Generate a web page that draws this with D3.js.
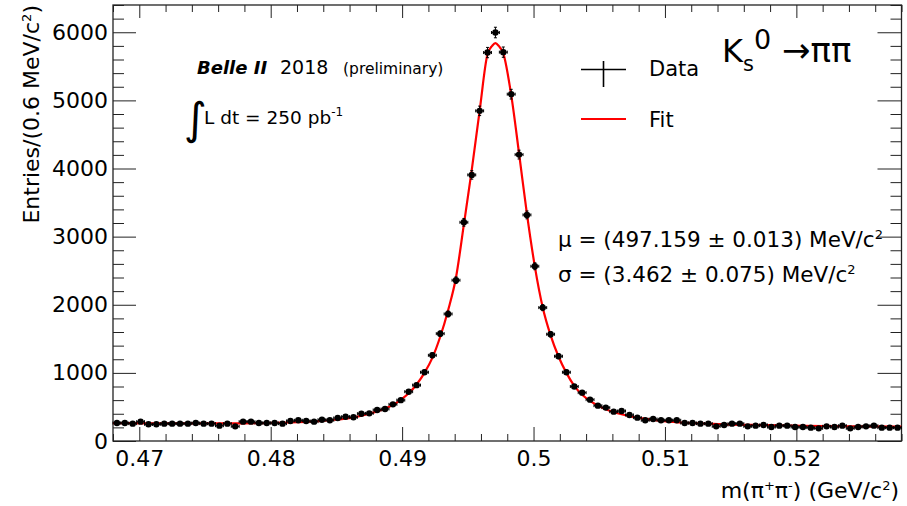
<!DOCTYPE html>
<html><head><meta charset="utf-8">
<script src="https://cdn.jsdelivr.net/npm/d3@7"></script>
<style>
body{margin:0;background:#fff}
svg{display:block}
text{font-family:'DejaVu Sans',sans-serif;fill:#000}
</style>
</head><body>
<svg id="c" width="907" height="506"></svg>
<script>
// ---- data ----
const binLow = 0.468;      // GeV/c^2
const binWidth = 0.0006;   // 0.6 MeV/c^2
const counts = [
  264, 264, 255, 284, 245, 245, 255, 255, 255, 255,
  264, 255, 255, 225, 255, 215, 284, 284, 264, 264,
  264, 255, 294, 304, 294, 284, 313, 304, 338, 357,
  348, 401, 406, 455, 470, 538, 600, 724, 820, 1009,
  1258, 1576, 1865, 2360, 3210, 3906, 4846, 5702, 5996, 5708,
  5091, 4204, 3319, 2565, 1958, 1567, 1244, 1009, 800, 710,
  607, 519, 490, 431, 440, 382, 343, 304, 323, 304,
  304, 304, 264, 264, 255, 255, 215, 235, 255, 255,
  215, 225, 235, 205, 225, 225, 205, 205, 196, 186,
  215, 205, 225, 186, 205, 215, 225, 196, 196, 196
];
const fitMass = [
  0.4680, 0.4707, 0.4731, 0.4755, 0.4779, 0.4803, 0.4815, 0.4827, 0.4839, 0.4851,
  0.4863, 0.4875, 0.4881, 0.4887, 0.4893, 0.4899, 0.4905, 0.4911, 0.4917, 0.4923,
  0.4929, 0.4935, 0.4941, 0.4947, 0.4953, 0.4959, 0.4965, 0.49685, 0.4971,
  0.49735, 0.4977, 0.4983, 0.4989, 0.4995, 0.5001, 0.5007, 0.5013, 0.5019,
  0.5025, 0.5031, 0.5037, 0.5043, 0.5049, 0.5055, 0.5061, 0.5067, 0.5073, 0.5079,
  0.5091, 0.5103, 0.5121, 0.5145, 0.5175, 0.5205, 0.5240, 0.5280
];
const fitValues = [
  262, 260, 259, 259, 260, 265, 272, 282, 296, 316,
  346, 400, 435, 475, 530, 605, 700, 830, 1000, 1220,
  1530, 1920, 2400, 3180, 3980, 4850, 5680, 5800, 5840,
  5800, 5690, 5080, 4220, 3330, 2560, 1960, 1550, 1240,
  1000, 810, 680, 590, 520, 465, 425, 392, 365, 343,
  310, 285, 262, 245, 234, 224, 216, 210
];
const xMajorTicks = [0.47, 0.48, 0.49, 0.50, 0.51, 0.52];
const xTickLabels = ["0.47", "0.48", "0.49", "0.5", "0.51", "0.52"];
const yMajorTicks = [0, 1000, 2000, 3000, 4000, 5000, 6000];
const yTickLabels = ["0", "1000", "2000", "3000", "4000", "5000", "6000"];
const xDomain = [0.468, 0.528];
const yDomain = [0, 6400];

// ---- drawing ----
const svg = d3.select("#c");
const L = 113, R = 901.5, T = 5, B = 441;
const x = d3.scaleLinear().domain(xDomain).range([L, R]);
const y = d3.scaleLinear().domain(yDomain).range([B, T]);

const xMinor = d3.range(0, 31).map(k => +(0.468 + k * 0.002).toFixed(4))
  .filter(v => !xMajorTicks.some(m => Math.abs(m - v) < 1e-6));
const yMinor = d3.range(0, 33).map(k => k * 200).filter(v => v % 1000 !== 0);

const axisColor = "#222";
function styleAxis(g) {
  g.selectAll("path.domain").remove();
  g.selectAll("line").attr("stroke", axisColor).attr("stroke-width", 1);
}

// bottom
svg.append("g").attr("transform", `translate(0,${B})`)
  .call(d3.axisBottom(x).tickValues(xMajorTicks).tickSize(-14).tickSizeOuter(0).tickPadding(9)
    .tickFormat((d, i) => xTickLabels[i]))
  .call(styleAxis)
  .call(g => g.selectAll("text").attr("font-size", 22).attr("font-family", "DejaVu Sans").attr("fill", "#000"));
svg.append("g").attr("transform", `translate(0,${B})`)
  .call(d3.axisBottom(x).tickValues(xMinor).tickSize(-7).tickSizeOuter(0).tickFormat(""))
  .call(styleAxis);
// top
svg.append("g").attr("transform", `translate(0,${T})`)
  .call(d3.axisTop(x).tickValues(xMajorTicks).tickSize(-13).tickSizeOuter(0).tickFormat(""))
  .call(styleAxis);
svg.append("g").attr("transform", `translate(0,${T})`)
  .call(d3.axisTop(x).tickValues(xMinor).tickSize(-7).tickSizeOuter(0).tickFormat(""))
  .call(styleAxis);
// left
svg.append("g").attr("transform", `translate(${L},0)`)
  .call(d3.axisLeft(y).tickValues(yMajorTicks).tickSize(-23).tickSizeOuter(0).tickPadding(5)
    .tickFormat((d, i) => yTickLabels[i]))
  .call(styleAxis)
  .call(g => g.selectAll("text").attr("font-size", 22).attr("font-family", "DejaVu Sans").attr("fill", "#000"));
svg.append("g").attr("transform", `translate(${L},0)`)
  .call(d3.axisLeft(y).tickValues(yMinor).tickSize(-11).tickSizeOuter(0).tickFormat(""))
  .call(styleAxis);
// right
svg.append("g").attr("transform", `translate(${R},0)`)
  .call(d3.axisRight(y).tickValues(yMajorTicks).tickSize(-24).tickSizeOuter(0).tickFormat(""))
  .call(styleAxis);
svg.append("g").attr("transform", `translate(${R},0)`)
  .call(d3.axisRight(y).tickValues(yMinor).tickSize(-11).tickSizeOuter(0).tickFormat(""))
  .call(styleAxis);

// frame
svg.append("rect").attr("x", L).attr("y", T).attr("width", R - L).attr("height", B - T)
  .attr("fill", "none").attr("stroke", axisColor).attr("stroke-width", 1.3);

// clip
svg.append("clipPath").attr("id", "plotclip").append("rect")
  .attr("x", L).attr("y", T).attr("width", R - L).attr("height", B - T);

// fit curve
const fitData = fitMass.map((m, i) => [m, fitValues[i]]);
svg.append("path").datum(fitData)
  .attr("clip-path", "url(#plotclip)")
  .attr("fill", "none").attr("stroke", "#ff0000").attr("stroke-width", 2.2)
  .attr("d", d3.line().x(d => x(d[0])).y(d => y(d[1])).curve(d3.curveMonotoneX));

// data points with error bars
const pts = counts.map((c, i) => ({
  lo: binLow + i * binWidth,
  hi: binLow + (i + 1) * binWidth,
  mid: binLow + (i + 0.5) * binWidth,
  c: c,
  e: Math.sqrt(c)
}));
const gp = svg.append("g").attr("stroke", "#000").attr("stroke-width", 1);
const pg = gp.selectAll("g").data(pts).join("g");
pg.append("line").attr("x1", d => x(d.lo)).attr("x2", d => x(d.hi))
  .attr("y1", d => y(d.c)).attr("y2", d => y(d.c));
pg.append("line").attr("x1", d => x(d.mid)).attr("x2", d => x(d.mid))
  .attr("y1", d => y(d.c + d.e)).attr("y2", d => y(d.c - d.e));
pg.append("line").attr("x1", d => x(d.mid) - 1.5).attr("x2", d => x(d.mid) + 1.5)
  .attr("y1", d => y(d.c + d.e)).attr("y2", d => y(d.c + d.e));
pg.append("line").attr("x1", d => x(d.mid) - 1.5).attr("x2", d => x(d.mid) + 1.5)
  .attr("y1", d => y(d.c - d.e)).attr("y2", d => y(d.c - d.e));
pg.append("line").attr("x1", d => x(d.lo)).attr("x2", d => x(d.lo))
  .attr("y1", d => y(d.c) - 1.5).attr("y2", d => y(d.c) + 1.5);
pg.append("line").attr("x1", d => x(d.hi)).attr("x2", d => x(d.hi))
  .attr("y1", d => y(d.c) - 1.5).attr("y2", d => y(d.c) + 1.5);
pg.append("circle").attr("cx", d => x(d.mid)).attr("cy", d => y(d.c)).attr("r", 3.2)
  .attr("fill", "#000").attr("stroke", "none");

// axis titles
const xt = svg.append("text").attr("x", 899).attr("y", 498).attr("text-anchor", "end").attr("font-size", 22);
xt.append("tspan").text("m(π");
xt.append("tspan").attr("dy", -8).attr("font-size", 13).text("+");
xt.append("tspan").attr("dy", 8).text("π");
xt.append("tspan").attr("dy", -8).attr("font-size", 13).text("-");
xt.append("tspan").attr("dy", 8).text(") (GeV/c");
xt.append("tspan").attr("dy", -8).attr("font-size", 13).text("2");
xt.append("tspan").attr("dy", 8).text(")");

const yt = svg.append("text").attr("transform", "translate(39,5) rotate(-90)")
  .attr("text-anchor", "end").attr("font-size", 22);
yt.append("tspan").text("Entries/(0.6 MeV/c");
yt.append("tspan").attr("dy", -8).attr("font-size", 13).text("2");
yt.append("tspan").attr("dy", 8).text(")");

// Belle II labels
svg.append("text").attr("x", 197).attr("y", 74).attr("font-size", 18)
  .attr("font-weight", "bold").attr("font-style", "italic").text("Belle II");
svg.append("text").attr("x", 280).attr("y", 74).attr("font-size", 19).text("2018");
svg.append("text").attr("x", 343).attr("y", 74).attr("font-size", 15.5).text("(preliminary)");
svg.append("text").attr("x", 184).attr("y", 134).attr("font-size", 44).text("∫");
const lum = svg.append("text").attr("x", 204).attr("y", 124).attr("font-size", 18.5);
lum.append("tspan").text("L dt = 250 pb");
lum.append("tspan").attr("dy", -8).attr("font-size", 12).text("-1");

// legend
svg.append("line").attr("x1", 581).attr("x2", 626).attr("y1", 69.5).attr("y2", 69.5)
  .attr("stroke", "#000").attr("stroke-width", 1.6);
svg.append("line").attr("x1", 603.5).attr("x2", 603.5).attr("y1", 61).attr("y2", 87)
  .attr("stroke", "#000").attr("stroke-width", 1.6);
svg.append("text").attr("x", 649).attr("y", 76).attr("font-size", 21).text("Data");
svg.append("line").attr("x1", 581).attr("x2", 626).attr("y1", 119).attr("y2", 119)
  .attr("stroke", "#ff0000").attr("stroke-width", 2.2);
svg.append("text").attr("x", 649).attr("y", 127).attr("font-size", 21).text("Fit");

// decay label
const kl = svg.append("text").attr("x", 722).attr("y", 62).attr("font-size", 32);
kl.append("tspan").text("K");
kl.append("tspan").attr("dy", 9).attr("font-size", 21).text("s");
kl.append("tspan").attr("dy", -22).attr("font-size", 27).text("0");
kl.append("tspan").attr("dy", 13).attr("font-size", 34).text(" →ππ");

// fit results
const mu = svg.append("text").attr("x", 558).attr("y", 247).attr("font-size", 21.5);
mu.append("tspan").text("μ = (497.159 ± 0.013) MeV/c");
mu.append("tspan").attr("dy", -8).attr("font-size", 13).text("2");
const sg = svg.append("text").attr("x", 558).attr("y", 282).attr("font-size", 21.5);
sg.append("tspan").text("σ = (3.462 ± 0.075) MeV/c");
sg.append("tspan").attr("dy", -8).attr("font-size", 13).text("2");
</script>
</body></html>
